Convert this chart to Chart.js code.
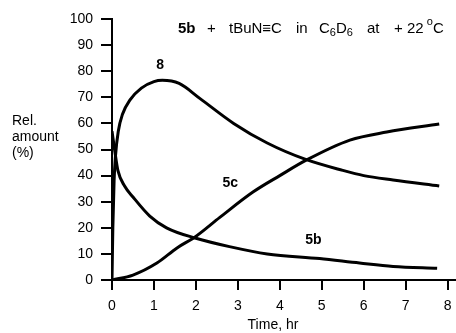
<!DOCTYPE html>
<html>
<head>
<meta charset="utf-8">
<script src="https://cdn.jsdelivr.net/npm/chart.js@4.4.0/dist/chart.umd.min.js"></script>
<style>
html,body{margin:0;padding:0;background:#fff;}
#wrap{width:456px;height:333px;position:relative;}
</style>
</head>
<body>
<div id="wrap"><canvas id="c" width="456" height="333"></canvas></div>
<script>
// Data (time in hours, relative amount in %)
const xTicks = [0, 1, 2, 3, 4, 5, 6, 7, 8];
const yTicks = [0, 10, 20, 30, 40, 50, 60, 70, 80, 90, 100];

const time8 = [0, 0.02, 0.05, 0.08, 0.15, 0.25, 0.43, 0.7, 1.0, 1.2, 1.6, 2.1, 2.9, 3.7, 4.6, 5.5, 6.0, 6.7, 7.8];
const amount8 = [0, 20, 38, 47, 57, 63.5, 69, 73.5, 76, 76.5, 75.3, 69.5, 60, 52.5, 46.3, 42, 40, 38.3, 36];

const time5b = [0, 0.07, 0.14, 0.3, 0.5, 0.9, 1.3, 2.0, 2.8, 3.7, 4.95, 5.9, 6.7, 7.75];
const amount5b = [57, 49, 42, 36, 31.8, 24.5, 20, 16, 12.8, 10, 8.2, 6.5, 5.2, 4.5];

const time5c = [0, 0.5, 1.07, 1.55, 1.98, 2.57, 3.36, 4.0, 4.64, 5.67, 6.55, 7.8];
const amount5c = [0, 1.9, 6.5, 12.3, 16.5, 24, 33.7, 40, 46, 53.6, 56.7, 59.8];

const seriesLabels = ['8', '5b', '5c'];

function pts(t, v) { return t.map((x, i) => ({x: x, y: v[i]})); }

const FONT = "'Liberation Sans', Arial, Helvetica, sans-serif";

const annot = {
  id: 'annot',
  afterDraw(chart) {
    const ctx = chart.ctx;
    const xs = chart.scales.x, ys = chart.scales.y;
    ctx.save();
    ctx.fillStyle = '#000';
    ctx.textBaseline = 'alphabetic';
    ctx.textAlign = 'left';
    // Title
    const base = 33;
    ctx.font = 'bold 15px ' + FONT;
    ctx.fillText('5b', 178, base);
    ctx.font = '15px ' + FONT;
    ctx.fillText('+', 207, base);
    ctx.fillText('tBuN\u2261C', 229, base);
    ctx.fillText('in', 296, base);
    let x = 319;
    ctx.fillText('C', x, base); x += ctx.measureText('C').width;
    ctx.font = '11px ' + FONT;
    ctx.fillText('6', x, base + 3); x += ctx.measureText('6').width;
    ctx.font = '15px ' + FONT;
    ctx.fillText('D', x, base); x += ctx.measureText('D').width;
    ctx.font = '11px ' + FONT;
    ctx.fillText('6', x, base + 3);
    ctx.font = '15px ' + FONT;
    ctx.fillText('at', 367, base);
    x = 394;
    ctx.fillText('+ 22 ', x, base); x += ctx.measureText('+ 22 ').width - 1;
    ctx.font = '11px ' + FONT;
    ctx.fillText('o', x, base - 8); x += ctx.measureText('o').width;
    ctx.font = '15px ' + FONT;
    ctx.fillText('C', x, base);

    // Curve labels (placed in data coordinates)
    ctx.font = 'bold 14px ' + FONT;
    ctx.textAlign = 'center';
    ctx.textBaseline = 'middle';
    ctx.fillText(seriesLabels[0], xs.getPixelForValue(1.15), ys.getPixelForValue(82.5));
    ctx.fillText(seriesLabels[1], xs.getPixelForValue(4.8), ys.getPixelForValue(15.3));
    ctx.fillText(seriesLabels[2], xs.getPixelForValue(2.82), ys.getPixelForValue(37));

    // Axis titles
    ctx.font = '14px ' + FONT;
    ctx.textAlign = 'center';
    ctx.textBaseline = 'middle';
    ctx.fillText('Time, hr', 273, 325);
    ctx.textAlign = 'left';
    ctx.fillText('Rel.', 12, 121);
    ctx.fillText('amount', 12, 137);
    ctx.fillText('(%)', 12, 153);
    ctx.restore();
  }
};

const common = {
  borderColor: '#000',
  borderWidth: 3,
  pointRadius: 0,
  fill: false,
  cubicInterpolationMode: 'monotone'
};

new Chart(document.getElementById('c'), {
  type: 'line',
  data: {
    datasets: [
      Object.assign({label: seriesLabels[0], data: pts(time8, amount8)}, common),
      Object.assign({label: seriesLabels[1], data: pts(time5b, amount5b)}, common),
      Object.assign({label: seriesLabels[2], data: pts(time5c, amount5c)}, common)
    ]
  },
  options: {
    responsive: false,
    animation: false,
    layout: {padding: {top: 19, left: 0, right: 0, bottom: 0}},
    plugins: {legend: {display: false}, tooltip: {enabled: false}, title: {display: false}},
    scales: {
      x: {
        type: 'linear',
        min: 0,
        max: 8.2,
        afterBuildTicks(s) { s.ticks = xTicks.map(v => ({value: v})); },
        afterFit(s) { s.height = 53; s.paddingLeft = 0; s.paddingRight = 0; },
        border: {display: true, color: '#000', width: 2},
        grid: {display: true, drawOnChartArea: false, drawTicks: true, tickLength: 10, color: '#000', lineWidth: 2},
        ticks: {color: '#000', font: {family: FONT, size: 14}, padding: 8, maxRotation: 0}
      },
      y: {
        type: 'linear',
        min: 0,
        max: 100,
        afterBuildTicks(s) { s.ticks = yTicks.map(v => ({value: v})); },
        afterFit(s) { s.width = 112; },
        border: {display: true, color: '#000', width: 2},
        grid: {display: true, drawOnChartArea: false, drawTicks: true, tickLength: 11, color: '#000', lineWidth: 2},
        ticks: {color: '#000', font: {family: FONT, size: 14}, padding: 8}
      }
    }
  },
  plugins: [annot]
});
</script>
</body>
</html>
